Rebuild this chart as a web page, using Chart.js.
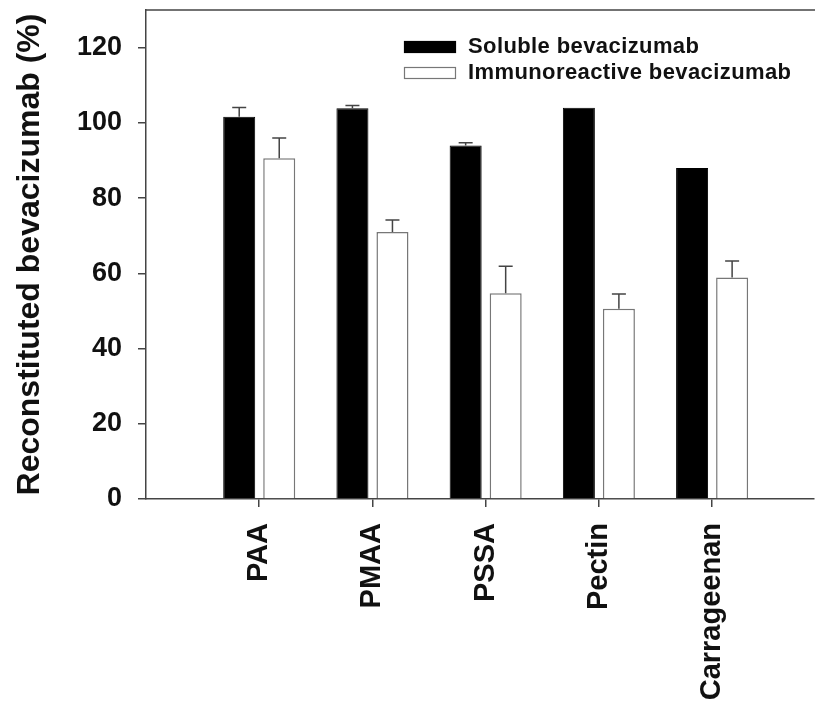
<!DOCTYPE html>
<html>
<head>
<meta charset="utf-8">
<script src="https://cdn.jsdelivr.net/npm/chart.js@4.4.1/dist/chart.umd.min.js"></script>
<style>
  html, body { margin: 0; padding: 0; background: #fff; }
</style>
</head>
<body>
<canvas id="bevChart" width="815" height="708"></canvas>
<script>
// polymers on the x axis and where they sit on the linear scale
var polymers = ['PAA', 'PMAA', 'PSSA', 'Pectin', 'Carrageenan'];
var polymerPos = [1, 2, 3, 4, 5];

// reconstituted bevacizumab (%)
var solubleVals = [101.6, 103.9, 94.0, 104.0, 88.0];
var solubleErr = [2.5, 0.7, 0.7, 0, 0];
var immunoVals = [90.6, 71.0, 54.7, 50.6, 58.9];
var immunoErr = [5.4, 3.2, 7.2, 3.9, 4.4];

var seriesNames = ['Soluble bevacizumab', 'Immunoreactive bevacizumab'];
var yTicks = [0, 20, 40, 60, 80, 100, 120];

var axisColor = '#444';
var textColor = '#111';

function toPoints(vals) {
    return polymerPos.map(function (x, i) { return { x: x, y: vals[i] }; });
}

// upward-only error bars with a cap, like the original figure
var errorBars = {
    id: 'errorBars',
    afterDatasetsDraw: function (chart) {
        var ctx = chart.ctx;
        var yScale = chart.scales.y;
        ctx.save();
        ctx.strokeStyle = axisColor;
        ctx.lineWidth = 1.5;
        chart.data.datasets.forEach(function (ds, di) {
            var meta = chart.getDatasetMeta(di);
            meta.data.forEach(function (bar, i) {
                var err = ds.errors[i];
                if (!err) return;
                var yTop = yScale.getPixelForValue(ds.data[i].y + err);
                ctx.beginPath();
                ctx.moveTo(bar.x, bar.y);
                ctx.lineTo(bar.x, yTop);
                ctx.moveTo(bar.x - 7, yTop);
                ctx.lineTo(bar.x + 7, yTop);
                ctx.stroke();
            });
        });
        ctx.restore();
    }
};

// top frame line + legend inside the plot
var frameAndLegend = {
    id: 'frameAndLegend',
    afterDraw: function (chart) {
        var ctx = chart.ctx;
        var a = chart.chartArea;
        ctx.save();
        ctx.strokeStyle = axisColor;
        ctx.lineWidth = 1.5;
        ctx.beginPath();
        ctx.moveTo(a.left, a.top);
        ctx.lineTo(chart.width, a.top);
        ctx.stroke();

        var rows = [41, 67];
        chart.data.datasets.forEach(function (ds, i) {
            var y = rows[i];
            ctx.fillStyle = ds.backgroundColor;
            ctx.fillRect(404, y, 52, 12);
            ctx.strokeStyle = ds.borderColor;
            ctx.lineWidth = 1.2;
            ctx.strokeRect(404.5, y + 0.5, 51, 11);
            ctx.fillStyle = textColor;
            ctx.font = 'bold 22px "Liberation Sans", Arial, sans-serif';
            ctx.letterSpacing = '0.4px';
            ctx.textBaseline = 'middle';
            ctx.textAlign = 'left';
            ctx.fillText(ds.label, 468, y + 6);
        });
        ctx.restore();
    }
};

var ctx = document.getElementById('bevChart');

var myChart = new Chart(ctx, {
    type: 'bar',
    data: {
        datasets: [{
            label: seriesNames[0],
            data: toPoints(solubleVals),
            errors: solubleErr,
            backgroundColor: '#000',
            borderColor: '#000',
            borderWidth: 1
        }, {
            label: seriesNames[1],
            data: toPoints(immunoVals),
            errors: immunoErr,
            backgroundColor: '#fff',
            borderColor: '#777',
            borderWidth: 1.5
        }]
    },
    options: {
        responsive: false,
        animation: false,
        devicePixelRatio: 1,
        categoryPercentage: 0.707,
        barPercentage: 0.8,
        layout: { padding: { top: 10, right: 1, left: 0, bottom: 0 } },
        plugins: {
            legend: { display: false },
            tooltip: { enabled: false }
        },
        scales: {
            x: {
                type: 'linear',
                min: 0,
                max: 5.9,
                offset: false,
                afterFit: function (scale) {
                    scale.height = 209;
                    scale.paddingLeft = 0;
                    scale.paddingRight = 0;
                },
                afterBuildTicks: function (scale) {
                    scale.ticks = polymerPos.map(function (v) { return { value: v }; });
                },
                ticks: {
                    autoSkip: false,
                    minRotation: 90,
                    maxRotation: 90,
                    padding: 16,
                    color: textColor,
                    font: { family: '"Liberation Sans", Arial, sans-serif', size: 29, weight: 'bold' },
                    callback: function (v) {
                        var i = polymerPos.indexOf(v);
                        return i >= 0 ? polymers[i] : '';
                    }
                },
                grid: {
                    offset: false,
                    drawOnChartArea: false,
                    tickLength: 8,
                    color: axisColor,
                    lineWidth: 1.5
                },
                border: { display: true, color: axisColor, width: 1.5 }
            },
            y: {
                min: 0,
                max: 130,
                afterFit: function (scale) {
                    scale.width = 146;
                    scale.paddingTop = 0;
                    scale.paddingBottom = 0;
                },
                afterBuildTicks: function (scale) {
                    scale.ticks = yTicks.map(function (v) { return { value: v }; });
                },
                ticks: {
                    padding: 16,
                    color: textColor,
                    font: { family: '"Liberation Sans", Arial, sans-serif', size: 27, weight: 'bold' }
                },
                grid: {
                    drawOnChartArea: false,
                    tickLength: 8,
                    color: axisColor,
                    lineWidth: 1.5
                },
                border: { display: true, color: axisColor, width: 1.5 },
                title: {
                    display: true,
                    text: 'Reconstituted bevacizumab (%)',
                    color: textColor,
                    padding: { top: 11, bottom: 0 },
                    font: { family: '"Liberation Sans", Arial, sans-serif', size: 32, weight: 'bold' }
                }
            }
        }
    },
    plugins: [errorBars, frameAndLegend]
});
</script>
</body>
</html>
